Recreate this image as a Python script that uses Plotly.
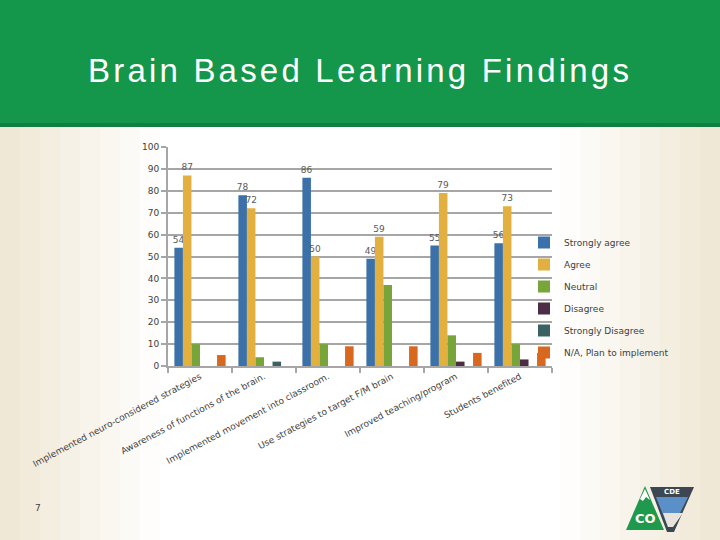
import plotly.graph_objects as go

categories = [
    "Implemented neuro-considered strategies",
    "Awareness of functions of the brain.",
    "Implemented movement into classroom.",
    "Use strategies to target F/M brain",
    "Improved teaching/program",
    "Students benefited",
]
strongly_agree = [54, 78, 86, 49, 55, 56]
agree = [87, 72, 50, 59, 79, 73]
neutral = [10, 4, 10, 37, 14, 10]
disagree = [0, 0, 0, 0, 2, 3]
strongly_disagree = [0, 2, 0, 0, 0, 0]
na_plan = [5, 0, 9, 9, 6, 6]

series = [
    ("Strongly agree", strongly_agree, "#3b70a9", True),
    ("Agree", agree, "#e2b041", True),
    ("Neutral", neutral, "#78a53a", False),
    ("Disagree", disagree, "#4d2c45", False),
    ("Strongly Disagree", strongly_disagree, "#3b6262", False),
    ("N/A, Plan to implement", na_plan, "#d8671f", False),
]

# plot area in pixels
L, R, T, B = 168, 552, 147, 366
W, H = 720, 540
def px(x):
    return (x - L) / (R - L)
def py(y):
    return (B - y) / (B - T)

fig = go.Figure()
for i, (name, vals, color, lab) in enumerate(series):
    fig.add_trace(go.Bar(
        x=categories, y=vals, name=name, marker_color=color,
        marker_line_width=0,
        text=[str(v) for v in vals] if lab else None,
        textposition="outside" if lab else "none",
        textfont=dict(size=9, color="#595959", family="DejaVu Sans"),
        constraintext="none", cliponaxis=False,
        legendgroup=str(i),
    ))

shapes = []
# background gradient (cream edges, white centre)
n = 36
for k in range(n):
    x0 = k * W / n
    x1 = (k + 1) * W / n
    c = (x0 + x1) / 2 / W
    d = min(c, 1 - c)
    t = max(0.0, 1 - d / 0.22)
    r = int(255 + (239 - 255) * t)
    g = int(255 + (231 - 255) * t)
    b = int(255 + (212 - 255) * t)
    shapes.append(dict(type="rect", xref="paper", yref="paper",
                       x0=px(x0), x1=px(x1 + 1), y0=py(H), y1=py(0),
                       fillcolor=f"rgb({r},{g},{b})", line_width=0, layer="below"))
# header band
shapes.append(dict(type="rect", xref="paper", yref="paper",
                   x0=px(0), x1=px(W), y0=py(127), y1=py(0),
                   fillcolor="#14974a", line_width=0, layer="below"))
shapes.append(dict(type="rect", xref="paper", yref="paper",
                   x0=px(0), x1=px(W), y0=py(127), y1=py(123),
                   fillcolor="#0f8040", line_width=0, layer="below"))
# logo: CO triangle
shapes.append(dict(type="path", xref="paper", yref="paper",
                   path=f"M {px(645)},{py(486)} L {px(664)},{py(530)} L {px(626)},{py(530)} Z",
                   fillcolor="#1f9a4c", line_width=0, layer="below"))
shapes.append(dict(type="path", xref="paper", yref="paper",
                   path=f"M {px(645)},{py(489)} L {px(650)},{py(500)} L {px(646)},{py(497)} L {px(643)},{py(501)} L {px(640)},{py(499)} Z",
                   fillcolor="white", line_width=0, layer="below"))
# CDE badge
shapes.append(dict(type="path", xref="paper", yref="paper",
                   path=f"M {px(650)},{py(487)} L {px(694)},{py(487)} L {px(674)},{py(532)} L {px(667)},{py(532)} Z",
                   fillcolor="#3d4653", line_width=0, layer="below"))
shapes.append(dict(type="path", xref="paper", yref="paper",
                   path=f"M {px(656)},{py(497)} L {px(688)},{py(497)} L {px(673)},{py(527)} L {px(668)},{py(527)} Z",
                   fillcolor="#5b8fc8", line_width=0, layer="below"))
shapes.append(dict(type="path", xref="paper", yref="paper",
                   path=f"M {px(663)},{py(513)} L {px(683)},{py(513)} L {px(673)},{py(527)} L {px(668)},{py(527)} Z",
                   fillcolor="#e8e4dc", line_width=0, layer="below"))

def note(text, x, y, size, color, family="DejaVu Sans"):
    return dict(text=text, x=px(x), y=py(y), xref="paper", yref="paper",
                showarrow=False, xanchor="center", yanchor="middle",
                font=dict(size=size, color=color, family=family))

annotations = [
    note('<span style="letter-spacing:3.2px">Brain Based Learning Findings</span>',
         360, 70, 33, "white", "Liberation Sans"),
    note("7", 38, 508, 9, "#404040"),
    note("<b>CO</b>", 645, 518, 13, "white"),
    note("<b>CDE</b>", 672, 492, 7, "white"),
]

fig.update_layout(
    width=W, height=H,
    margin=dict(l=L, r=W - R, t=T, b=H - B, autoexpand=False),
    paper_bgcolor="white", plot_bgcolor="rgba(0,0,0,0)",
    barmode="group", bargap=0.2, bargroupgap=0,
    font=dict(family="DejaVu Sans", size=9, color="#404040"),
    showlegend=True,
    legend=dict(x=px(524), y=py(228), xanchor="left", yanchor="top",
                bgcolor="rgba(0,0,0,0)", font=dict(size=9, color="#404040"),
                tracegroupgap=3, itemwidth=30, traceorder="grouped"),
    shapes=shapes, annotations=annotations,
)
fig.update_xaxes(showline=True, linecolor="#a6a6a6", linewidth=2,
                 ticks="outside", tickson="boundaries", ticklen=5,
                 tickcolor="#a6a6a6", tickwidth=2, tickangle=-28,
                 tickfont=dict(size=9, color="#404040"), showgrid=False)
fig.update_yaxes(range=[0, 100], dtick=10, showline=True, linecolor="#a6a6a6",
                 linewidth=2, ticks="outside", ticklen=5, tickcolor="#a6a6a6",
                 tickwidth=2, showgrid=True, gridcolor="#a6a6a6", gridwidth=2,
                 zeroline=False, tickfont=dict(size=9, color="#404040"))

fig.write_html("out.html", config={"displayModeBar": False},
               post_script="document.body.style.margin='0';document.body.style.padding='0';document.body.style.overflow='hidden';")
